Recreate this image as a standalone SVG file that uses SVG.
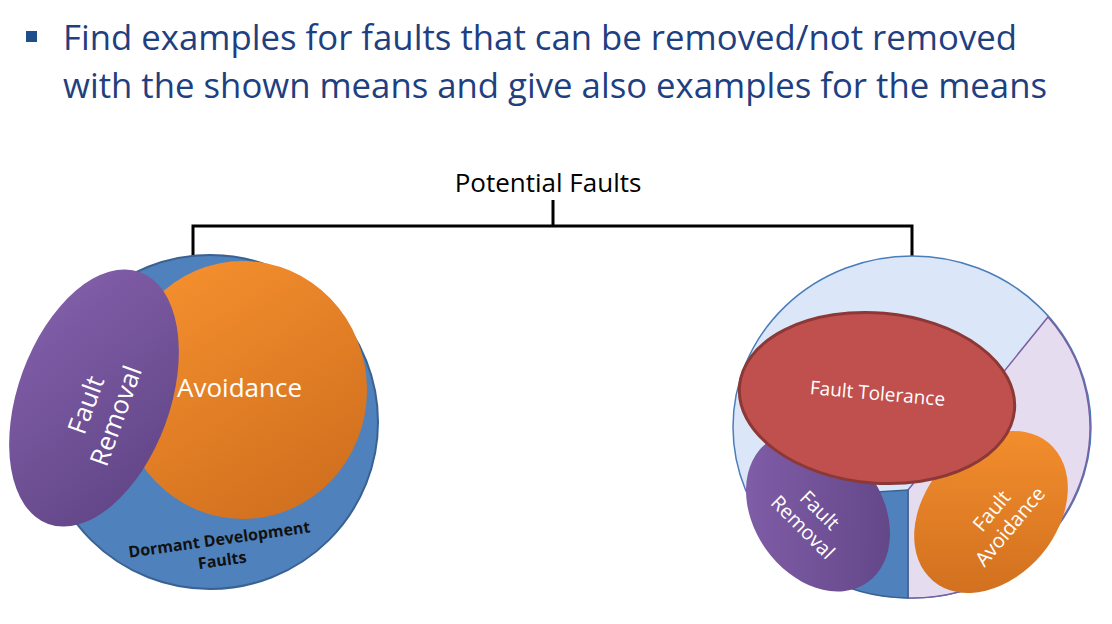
<svg xmlns="http://www.w3.org/2000/svg" width="1112" height="624" viewBox="0 0 1112 624">
<defs>
<linearGradient id="pur" x1="0" y1="0" x2="1" y2="1"><stop offset="0" stop-color="#8561ad"/><stop offset="1" stop-color="#5e4383"/></linearGradient>
<linearGradient id="org" x1="0" y1="0" x2="0.6" y2="1"><stop offset="0" stop-color="#f99330"/><stop offset="1" stop-color="#d2711f"/></linearGradient>
<style>
.t{font-family:"Open Sans","Liberation Sans",sans-serif}
.w{fill:#fff;text-anchor:middle}
.ln{stroke:#000;stroke-width:3;fill:none}
</style>
</defs>
<rect width="1112" height="624" fill="#fff"/>
<rect x="26" y="31" width="11" height="11" fill="#1f4e8c"/>
<text class="t" x="63" y="50" font-size="34" fill="#1f3f80" textLength="954" lengthAdjust="spacingAndGlyphs">Find examples for faults that can be removed/not removed</text>
<text class="t" x="63" y="98" font-size="34" fill="#1f3f80" textLength="984" lengthAdjust="spacingAndGlyphs">with the shown means and give also examples for the means</text>
<text class="t" x="548" y="192" font-size="26" text-anchor="middle" fill="#000">Potential Faults</text>
<g id="connectors">
<path class="ln" d="M553,200 V226 M193,256 V226 H912 V256"/>
</g>
<g id="left">
<ellipse cx="210" cy="422" rx="168" ry="167" fill="#4f81bd" stroke="#3a6291" stroke-width="2"/>
<ellipse cx="243" cy="390" rx="124" ry="129" fill="url(#org)"/>
<ellipse cx="94" cy="398" rx="76" ry="134" transform="rotate(20 94 398)" fill="url(#pur)"/>
<text class="t w" font-size="26" transform="translate(100,410) rotate(-70)"><tspan x="0" y="-6">Fault</tspan><tspan x="0" y="26">Removal</tspan></text>
<text class="t" x="177" y="397" font-size="26" fill="#fff">Avoidance</text>
<text class="t" font-size="16" font-weight="bold" text-anchor="middle" fill="#111" transform="translate(220,545) rotate(-8)"><tspan x="0" y="0">Dormant Development</tspan><tspan x="0" y="21">Faults</tspan></text>
</g>
<g id="right">
<ellipse cx="912" cy="427" rx="179" ry="171" fill="#dbe7f9" stroke="#4a7dbb" stroke-width="1.5"/>
<path d="M908,490 L1048,317 A179,171 0 0 1 908,598 Z" fill="#e5dcf0" stroke="#7a5fa0" stroke-width="1.5"/>
<path d="M908,490 L908,598 A179,171 0 0 1 748,500 Z" fill="#4f81bd" stroke="#3a6291" stroke-width="1.5"/>
<ellipse cx="818" cy="512" rx="64" ry="86" transform="rotate(-35 818 512)" fill="url(#pur)"/>
<text class="t w" font-size="20" transform="translate(812,518) rotate(45)"><tspan x="0" y="-4">Fault</tspan><tspan x="0" y="20">Removal</tspan></text>
<ellipse cx="991" cy="512" rx="66" ry="90" transform="rotate(40 991 512)" fill="url(#org)"/>
<text class="t w" font-size="20" transform="translate(1000,518) rotate(-50)"><tspan x="0" y="-4">Fault</tspan><tspan x="0" y="20">Avoidance</tspan></text>
<ellipse cx="877" cy="398" rx="138" ry="85" transform="rotate(5 877 398)" fill="#c0504d" stroke="#8c3836" stroke-width="3"/>
<text class="t w" font-size="19" transform="translate(877,400) rotate(5)">Fault Tolerance</text>
</g>
</svg>
